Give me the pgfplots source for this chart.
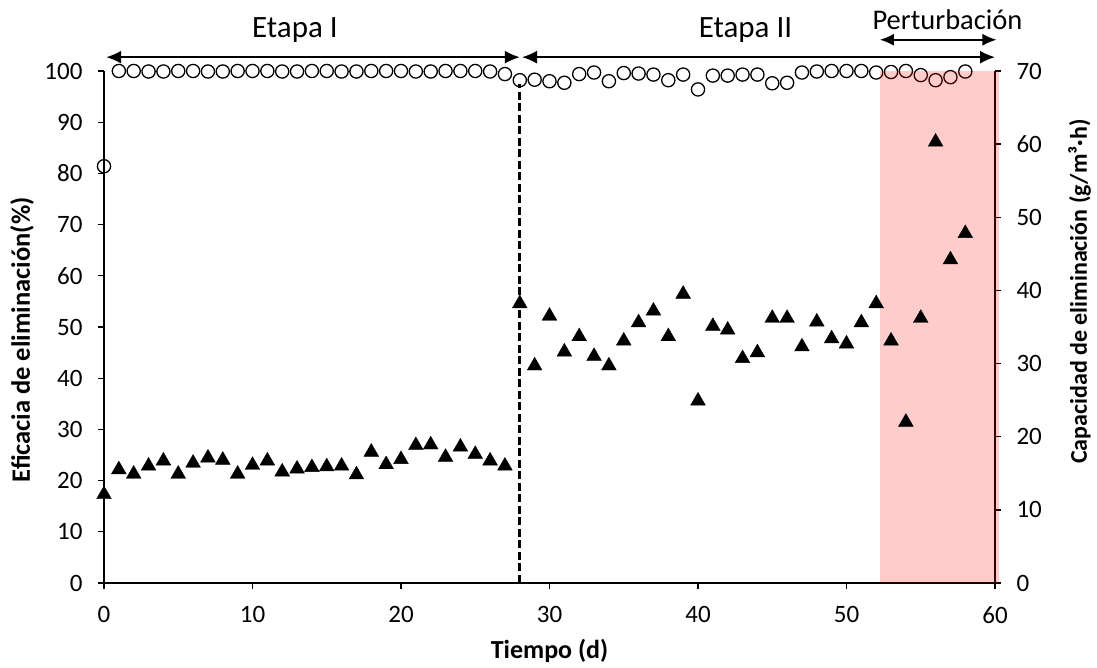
\documentclass[border=0pt]{standalone}
\usepackage{pgfplots}
\pgfplotsset{compat=1.18}
\usepackage{pgfplotstable}
\usepackage{fontspec}
\setmainfont{Carlito}
\usetikzlibrary{arrows.meta}

\pgfplotstableread{
x y
0 81.4
1 100
2 100
3 99.9
4 99.9
5 100
6 100
7 99.9
8 99.9
9 100
10 100
11 100
12 99.9
13 99.9
14 100
15 100
16 99.9
17 99.9
18 100
19 100
20 100
21 99.9
22 99.9
23 100
24 100
25 100
26 99.9
27 99.4
28 98.2
29 98.3
30 98.0
31 97.7
32 99.4
33 99.7
34 98.0
35 99.6
36 99.5
37 99.3
38 98.2
39 99.3
40 96.4
41 99.1
42 99.1
43 99.3
44 99.3
45 97.6
46 97.7
47 99.7
48 99.9
49 100
50 100
51 100
52 99.7
53 99.8
54 100
55 99.2
56 98.2
57 98.8
58 99.9
}\eff

\pgfplotstableread{
x y
0 12.1
1 15.5
2 14.9
3 16.0
4 16.7
5 14.9
6 16.4
7 17.1
8 16.8
9 14.9
10 16.1
11 16.7
12 15.2
13 15.6
14 15.8
15 15.9
16 16.0
17 14.8
18 17.9
19 16.2
20 16.9
21 18.8
22 18.9
23 17.2
24 18.6
25 17.6
26 16.7
27 16.0
28 38.2
29 29.7
30 36.5
31 31.6
32 33.7
33 31.0
34 29.7
35 33.1
36 35.6
37 37.2
38 33.7
39 39.5
40 24.9
41 35.1
42 34.6
43 30.7
44 31.5
45 36.2
46 36.2
47 32.3
48 35.7
49 33.4
50 32.7
51 35.6
52 38.2
53 33.1
54 22.0
55 36.2
56 60.3
57 44.2
58 47.8
}\capdata

\begin{document}
\begin{tikzpicture}[font=\fontsize{25}{30}\selectfont]
\useasboundingbox (-104pt,-85pt) rectangle (993pt,583pt);
\begin{axis}[
  scale only axis, width=891pt, height=512pt,
  xmin=0, xmax=60, ymin=0, ymax=100,
  axis x line*=bottom, axis y line*=left,
  xtick={0,10,...,60}, ytick={0,10,...,100},
  tick align=outside, major tick length=6pt,
  tick style={black, line width=1.3pt},
  axis line style={black, line width=1.3pt},
  /pgf/number format/assume math mode=true,
  ticklabel style={font=\fontsize{25}{30}\selectfont},
  yticklabel style={xshift=-12pt},
  xticklabel style={yshift=-14pt},
  xlabel={\textbf{Tiempo (d)}},
  ylabel={\textbf{Eficacia de eliminación(\%)}},
  xlabel style={at={(axis description cs:0.5,-0.133)}, anchor=center, font=\fontsize{26}{30}\selectfont},
  ylabel style={at={(axis description cs:-0.092,0.475)}, anchor=center, font=\fontsize{26.5}{31}\selectfont},
  clip=false,
]
\addplot[only marks, mark=o, mark size=6.6pt, mark options={line width=1.3pt, draw=black}] table {\eff};
\draw[black, line width=2.8pt, dash pattern=on 8pt off 3.5pt] (axis cs:28,0) -- (axis cs:28,97.4);
\draw[{Latex[length=15pt,width=13pt]}-{Latex[length=15pt,width=13pt]}, line width=1.6pt] (axis cs:0.15,102.7) -- (axis cs:28.0,102.7);
\draw[{Latex[length=15pt,width=13pt]}-{Latex[length=15pt,width=13pt]}, line width=1.6pt] (axis cs:28.15,102.7) -- (axis cs:60.0,102.7);
\draw[{Latex[length=14pt,width=12pt]}-{Latex[length=14pt,width=12pt]}, line width=1.6pt] (axis cs:52.25,106.1) -- (axis cs:60.1,106.1);
\node[font=\fontsize{31}{36}\selectfont] at (axis cs:12.86,107.9) {Etapa I};
\node[font=\fontsize{31}{36}\selectfont] at (axis cs:43.2,107.9) {Etapa II};
\node[font=\fontsize{28.5}{34}\selectfont] at (axis cs:56.8,110.0) {Perturbación};
\end{axis}
\begin{axis}[
  scale only axis, width=891pt, height=512pt,
  xmin=0, xmax=60, ymin=0, ymax=70,
  axis x line=none, axis y line*=right,
  ytick={0,10,...,70},
  tick align=outside, major tick length=6pt,
  tick style={black, line width=1.3pt},
  axis line style={black, line width=1.3pt},
  /pgf/number format/assume math mode=true,
  ticklabel style={font=\fontsize{25}{30}\selectfont},
  yticklabel style={xshift=12pt},
  ylabel={\textbf{Capacidad de eliminación (g/m³·h)}},
  ylabel style={at={(axis description cs:1.095,0.569)}, anchor=center, font=\fontsize{24}{28}\selectfont},
  clip=false,
]
\addplot[only marks, mark=triangle*, mark size=8.5pt, mark options={fill=black, draw=black}] table {\capdata};
\fill[red, opacity=0.2] (axis cs:52.25,0) rectangle (axis cs:60.3,70);
\end{axis}
\end{tikzpicture}
\end{document}
